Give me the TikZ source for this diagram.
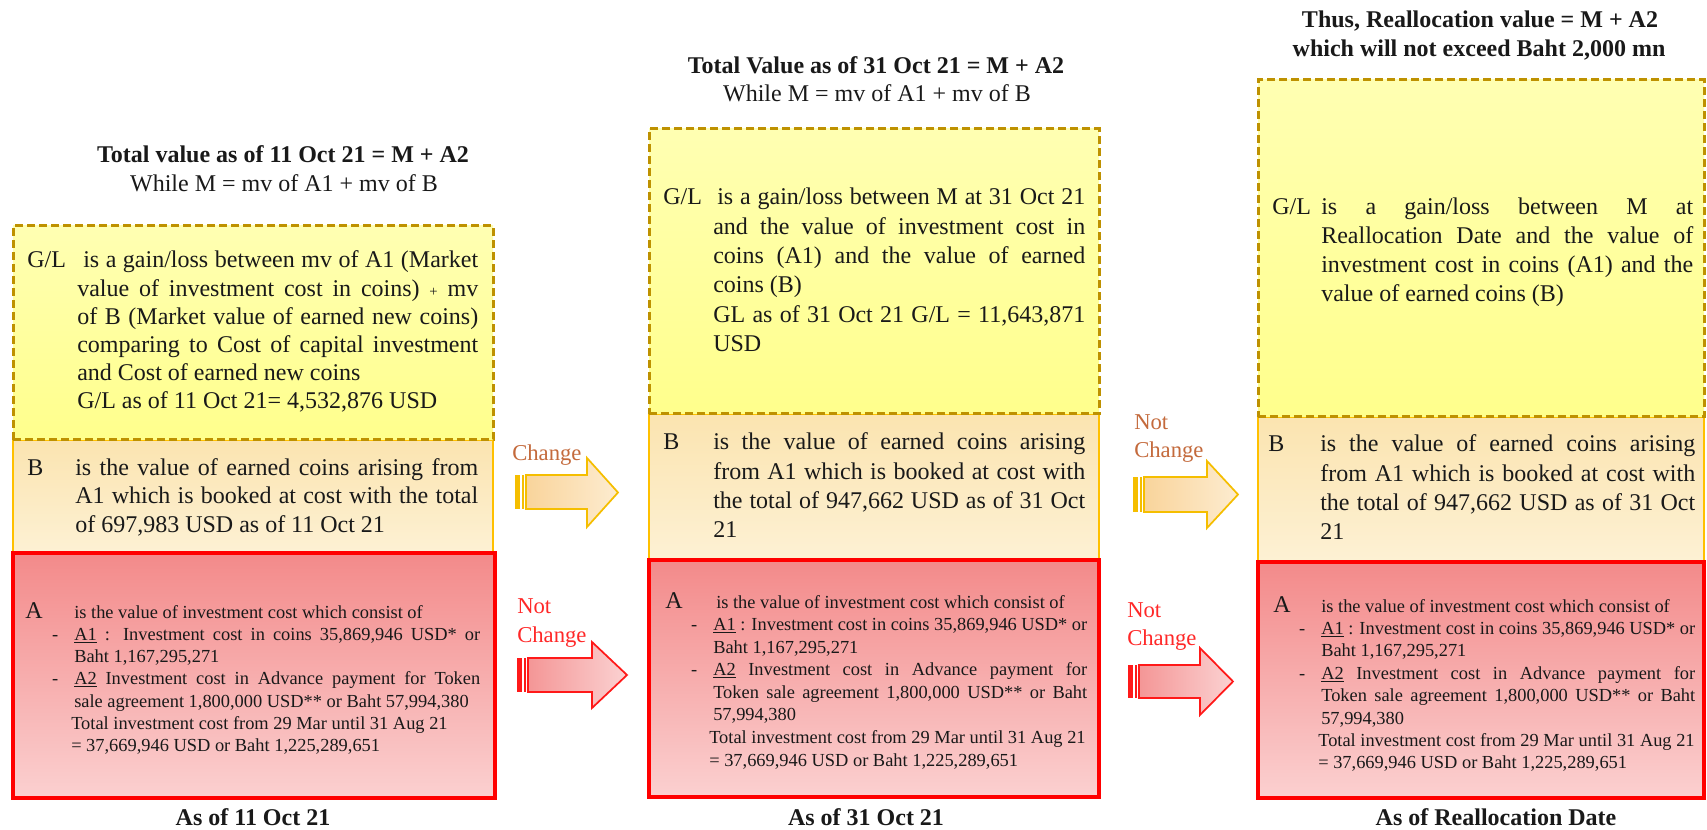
\documentclass[tikz,border=0pt]{standalone}
\usepackage{fontspec}
\setmainfont{Liberation Serif}
\usetikzlibrary{fit}
\newdimen\pxu \pxu=0.75pt
\newcommand{\J}[1]{\hbox to \hsize{#1}}
\newcommand{\R}[1]{\hbox{#1}}
\newcommand{\dsh}{\llap{-\hspace{16\pxu}}}
\newcommand{\sP}{{\fontsize{11}{11}\selectfont +}}
\newcommand{\blk}[2]{\parbox[t]{#1\pxu}{#2}}
\definecolor{glTop}{RGB}{255,255,178}
\definecolor{glBot}{RGB}{255,255,140}
\definecolor{glLine}{RGB}{190,145,0}
\definecolor{bTop}{RGB}{251,228,176}
\definecolor{bBot}{RGB}{253,241,212}
\definecolor{bLine}{RGB}{255,192,0}
\definecolor{aTop}{RGB}{243,138,138}
\definecolor{aBot}{RGB}{251,208,208}
\definecolor{aLine}{RGB}{255,0,0}
\definecolor{upFillL}{RGB}{249,212,155}
\definecolor{upFillR}{RGB}{253,236,208}
\definecolor{upLine}{RGB}{245,190,0}
\definecolor{dnFillL}{RGB}{244,150,150}
\definecolor{dnFillR}{RGB}{251,210,210}
\definecolor{dnLine}{RGB}{255,25,25}
\definecolor{brownLbl}{RGB}{196,106,60}
\definecolor{redLbl}{RGB}{255,40,40}
\definecolor{ink}{RGB}{25,25,25}
\tikzset{
  glbox/.style={inner sep=0pt, top color=glTop, bottom color=glBot, draw=glLine, line width=2.25pt, dash pattern=on 6pt off 3pt},
  bbox/.style={inner sep=0pt, top color=bTop, bottom color=bBot, draw=bLine, line width=1.6pt},
  abox/.style={inner sep=0pt, top color=aTop, bottom color=aBot, draw=aLine, line width=2.6pt},
  bigtxt/.style={inner sep=0pt, anchor=base west, text=ink, font=\fontsize{18}{22}\selectfont},
  smalltxt/.style={inner sep=0pt, anchor=base west, text=ink, font=\fontsize{13.8}{16.8}\selectfont},
  lbl/.style={inner sep=0pt, anchor=base west, text=ink, font=\fontsize{18}{22}\selectfont},
  ttl/.style={inner sep=0pt, anchor=base, text=ink, font=\fontsize{18}{22}\selectfont\bfseries},
  subttl/.style={inner sep=0pt, anchor=base, text=ink, font=\fontsize{18}{22}\selectfont},
  captxt/.style={inner sep=0pt, anchor=base, text=ink, font=\fontsize{18}{22}\selectfont\bfseries},
  brlbl/.style={inner sep=0pt, anchor=base west, text=brownLbl, font=\fontsize{17}{20}\selectfont},
  rdlbl/.style={inner sep=0pt, anchor=base west, text=redLbl, font=\fontsize{17}{20}\selectfont},
  upstripe/.style={fill=upLine},
  upbody/.style={left color=upFillL, right color=upFillR, draw=upLine, line width=1.3pt, line join=miter},
  dnstripe/.style={fill=dnLine},
  dnbody/.style={left color=dnFillL, right color=dnFillR, draw=dnLine, line width=1.3pt, line join=miter}
}
\newcommand{\striparrow}[8]{%
  \fill[#8stripe] (#1,#2) rectangle ({#1+5},#3);
  \fill[#8stripe] ({#1+7},#2) rectangle ({#1+9},#3);
  \path[#8body] ({#1+11},#2) -- (#4,#2) -- (#4,#5) -- (#7,{(#5+#6)/2}) -- (#4,#6) -- (#4,#3) -- ({#1+11},#3) -- cycle;
}
\begin{document}
\begin{tikzpicture}[x=0.75pt,y=-0.75pt]
\path[use as bounding box, fill=white] (0,0) rectangle (1707,830);

% ---------- Panel 1 ----------
\node[ttl] (t1a) at (283,163) {Total value as of 11 Oct 21 = M + A2};
\node[subttl] (t1b) at (284,192) {While M = mv of A1 + mv of B};
\node[bbox, fit={(13,440) (493,553)}] (b1) {};
\node[glbox, fit={(13,226) (493,440)}] (gl1) {};
\node[abox, fit={(13,553) (495,798)}] (a1) {};
\node[lbl] (gl1l) at (27,268) {G/L};
\node[bigtxt, font=\fontsize{18}{21.15}\selectfont] (gl1t) at (77,268) {\blk{401}{%
\J{\hspace*{6\pxu}is a gain/loss between mv of A1 (Market}%
\J{value of investment cost in coins) \sP{} mv}%
\J{of B (Market value of earned new coins)}%
\J{comparing to Cost of capital investment}%
\R{and Cost of earned new coins}%
\R{G/L as of 11 Oct 21= 4,532,876 USD}}};
\node[lbl] (b1l) at (27,475) {B};
\node[bigtxt, font=\fontsize{18}{21.4}\selectfont] (b1t) at (75,475) {\blk{403}{%
\J{is the value of earned coins arising from}%
\J{A1 which is booked at cost with the total}%
\R{of 697,983 USD as of 11 Oct 21}}};
\node[lbl] (a1l) at (25,618) {A};
\node[smalltxt, font=\fontsize{13.8}{16.7}\selectfont] (a1t) at (74,618) {\blk{406}{%
\R{is the value of investment cost which consist of}%
\J{\dsh\underline{A1} : Investment cost in coins 35,869,946 USD* or}%
\R{Baht 1,167,295,271}%
\J{\dsh\underline{A2} Investment cost in Advance payment for Token}%
\R{sale agreement 1,800,000 USD** or Baht 57,994,380}%
\R{\hspace*{-3\pxu}Total investment cost from 29 Mar until 31 Aug 21}%
\R{\hspace*{-3\pxu}= 37,669,946 USD or Baht 1,225,289,651}}};
\node[captxt] (c1) at (253,825) {As of 11 Oct 21};

% ---------- Panel 2 ----------
\node[ttl] (t2a) at (876,74) {Total Value as of 31 Oct 21 = M + A2};
\node[subttl] (t2b) at (877,102) {While M = mv of A1 + mv of B};
\node[bbox, fit={(649,414) (1099,560)}] (b2) {};
\node[glbox, fit={(649,129) (1099,414)}] (gl2) {};
\node[abox, fit={(649,560) (1099,797)}] (a2) {};
\node[lbl] (gl2l) at (663,205) {G/L};
\node[bigtxt, font=\fontsize{18}{22}\selectfont] (gl2t) at (713,205) {\blk{372}{%
\J{\hspace*{4\pxu}is a gain/loss between M at 31 Oct 21}%
\J{and the value of investment cost in}%
\J{coins (A1) and the value of earned}%
\R{coins (B)}%
\J{GL as of 31 Oct 21 G/L = 11,643,871}%
\R{USD}}};
\node[lbl] (b2l) at (663,450) {B};
\node[bigtxt, font=\fontsize{18}{22}\selectfont] (b2t) at (713,450) {\blk{372}{%
\J{is the value of earned coins arising}%
\J{from A1 which is booked at cost with}%
\J{the total of 947,662 USD as of 31 Oct}%
\R{21}}};
\node[lbl] (a2l) at (665,608) {A};
\node[smalltxt, font=\fontsize{13.8}{16.95}\selectfont] (a2t) at (713,608) {\blk{374}{%
\R{\hspace*{3\pxu}is the value of investment cost which consist of}%
\J{\dsh\underline{A1} : Investment cost in coins 35,869,946 USD* or}%
\R{Baht 1,167,295,271}%
\J{\dsh\underline{A2} Investment cost in Advance payment for}%
\J{Token sale agreement 1,800,000 USD** or Baht}%
\R{57,994,380}%
\R{\hspace*{-4\pxu}Total investment cost from 29 Mar until 31 Aug 21}%
\R{\hspace*{-4\pxu}= 37,669,946 USD or Baht 1,225,289,651}}};
\node[captxt] (c2) at (866,825) {As of 31 Oct 21};

% ---------- Panel 3 ----------
\node[ttl] (t3a) at (1480,28) {Thus, Reallocation value = M + A2};
\node[ttl] (t3b) at (1479,57) {which will not exceed Baht 2,000 mn};
\node[bbox, fit={(1258,417) (1704,562)}] (b3) {};
\node[glbox, fit={(1258,80) (1704,417)}] (gl3) {};
\node[abox, fit={(1258,562) (1704,798)}] (a3) {};
\node[lbl] (gl3l) at (1272,215) {G/L};
\node[bigtxt, font=\fontsize{18}{21.75}\selectfont] (gl3t) at (1321,215) {\blk{372}{%
\J{is a gain/loss between M at}%
\J{Reallocation Date and the value of}%
\J{investment cost in coins (A1) and the}%
\R{value of earned coins (B)}}};
\node[lbl] (b3l) at (1268,452) {B};
\node[bigtxt, font=\fontsize{18}{22}\selectfont] (b3t) at (1320,452) {\blk{375}{%
\J{is the value of earned coins arising}%
\J{from A1 which is booked at cost with}%
\J{the total of 947,662 USD as of 31 Oct}%
\R{21}}};
\node[lbl] (a3l) at (1273,612) {A};
\node[smalltxt, font=\fontsize{13.8}{16.8}\selectfont] (a3t) at (1321,612) {\blk{374}{%
\R{is the value of investment cost which consist of}%
\J{\dsh\underline{A1} : Investment cost in coins 35,869,946 USD* or}%
\R{Baht 1,167,295,271}%
\J{\dsh\underline{A2} Investment cost in Advance payment for}%
\J{Token sale agreement 1,800,000 USD** or Baht}%
\R{57,994,380}%
\R{\hspace*{-3\pxu}Total investment cost from 29 Mar until 31 Aug 21}%
\R{\hspace*{-3\pxu}= 37,669,946 USD or Baht 1,225,289,651}}};
\node[captxt] (c3) at (1496,825) {As of Reallocation Date};

% ---------- Arrows ----------
\striparrow{515}{475}{509}{587}{458}{527}{618}{up}
\striparrow{517}{658}{692}{592}{642}{708}{627}{dn}
\striparrow{1133}{477}{512}{1207}{461}{528}{1238}{up}
\striparrow{1128}{665}{698}{1200}{648}{715}{1233}{dn}
\node[brlbl] (l1) at (512,460) {Change};
\node[rdlbl] (l2a) at (517,613) {Not};
\node[rdlbl] (l2b) at (517,642) {Change};
\node[brlbl] (l3a) at (1134,430) {Not};
\node[brlbl] (l3b) at (1134,458) {Change};
\node[rdlbl] (l4a) at (1127,617) {Not};
\node[rdlbl] (l4b) at (1127,645) {Change};
\end{tikzpicture}
\end{document}
